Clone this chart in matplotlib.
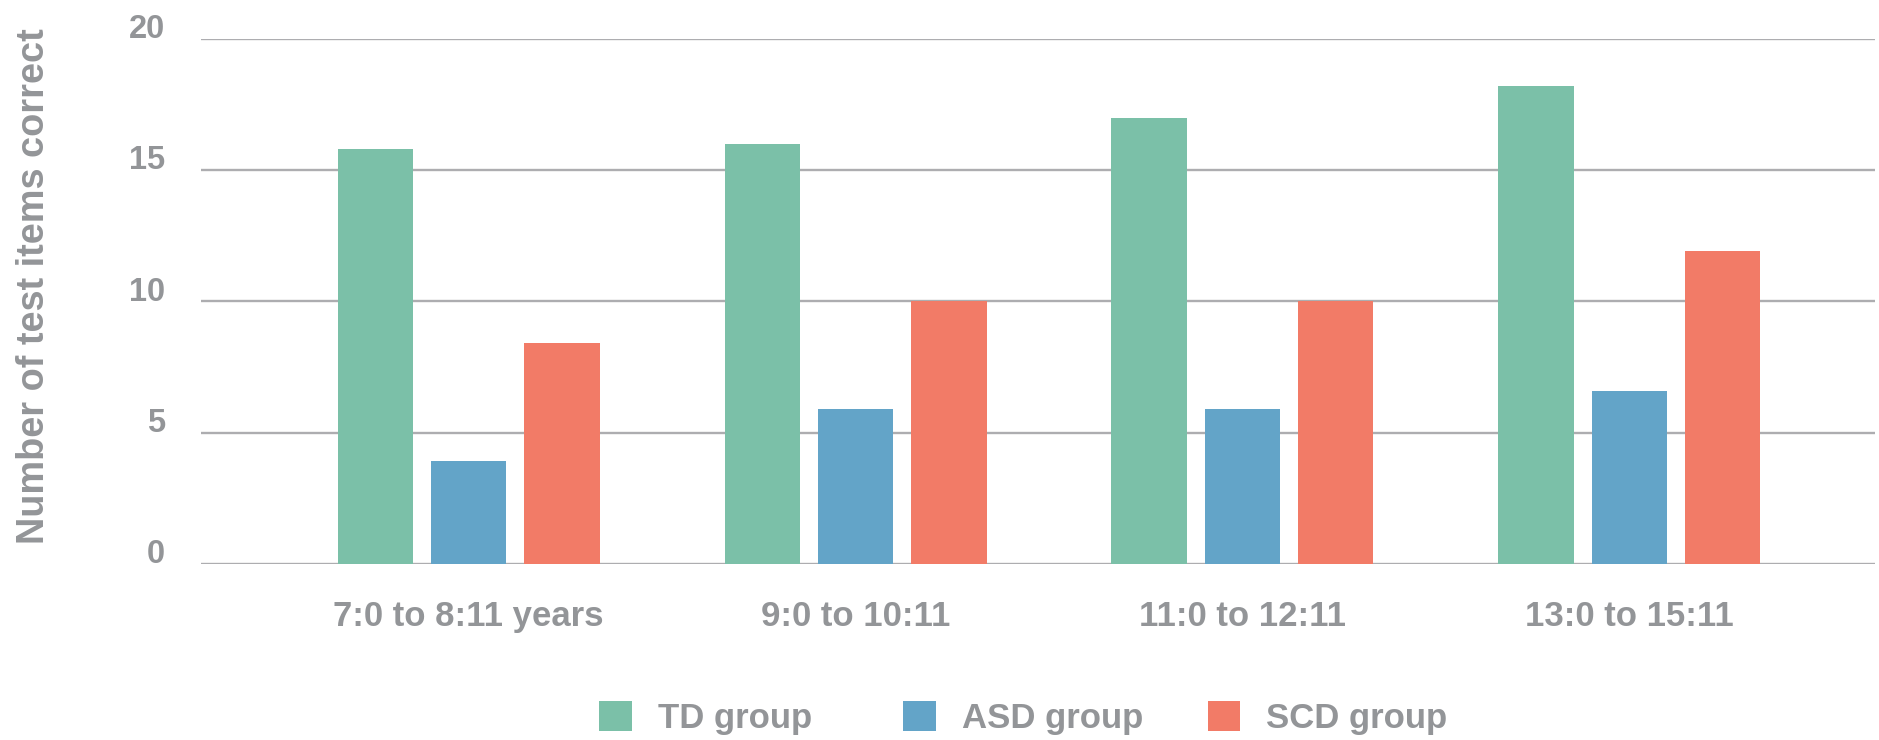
import matplotlib.pyplot as plt
import matplotlib.transforms as mtransforms
import numpy as np

# data
age_groups = ['7:0 to 8:11 years', '9:0 to 10:11', '11:0 to 12:11', '13:0 to 15:11']
td_group = [15.8, 16.0, 17.0, 18.2]
asd_group = [3.9, 5.9, 5.9, 6.6]
scd_group = [8.4, 10.0, 10.0, 11.9]

series_names = ['TD group', 'ASD group', 'SCD group']
series_colors = ['#7BC0A8', '#63A4C8', '#F27B67']
text_grey = '#939598'
grid_grey = '#ADADB0'

plt.rcParams['font.family'] = ['Liberation Sans', 'DejaVu Sans']
plt.rcParams['font.weight'] = 'bold'

fig = plt.figure(figsize=(18.79, 7.40), dpi=100)
ax = fig.add_axes([0.107, 0.238, 0.891, 0.7096])

x = np.arange(len(age_groups))
bar_w = 0.195
pitch = 0.241
bars = []
for i, (vals, name, col) in enumerate(zip([td_group, asd_group, scd_group], series_names, series_colors)):
    bars.append(ax.bar(x + (i - 1) * pitch, vals, width=bar_w, color=col, label=name, zorder=3))

ax.set_xlim(-0.692, 3.636)
ax.set_ylim(0, 20)
ax.set_yticks([0, 5, 10, 15, 20])
ax.set_xticks(x)
ax.set_xticklabels(age_groups)
ax.grid(axis='y', color=grid_grey, linewidth=1.7, zorder=0)
ax.set_axisbelow(True)
for s in ax.spines.values():
    s.set_visible(False)
ax.tick_params(axis='both', length=0, colors=text_grey)
ax.tick_params(axis='y', pad=26, labelsize=23.5)
ax.tick_params(axis='x', pad=26, labelsize=25)

# y labels sit a little above their gridlines
lift = mtransforms.ScaledTranslation(0, 9.2 / 72, fig.dpi_scale_trans)
for lab in ax.get_yticklabels():
    lab.set_transform(lab.get_transform() + lift)

fig.text(0.018, 0.614, 'Number of test items correct', rotation=90, color=text_grey,
         fontsize=27.3, ha='center', va='center')

# legend entries on an even spacing, one small legend each
legend_x = [0.3188, 0.4808, 0.6427]
for bc, name, lx in zip(bars, series_names, legend_x):
    leg = fig.legend([bc], [name], loc='center left', bbox_to_anchor=(lx, 0.03),
                     frameon=False, fontsize=25, handlelength=0.94, handleheight=0.94,
                     handletextpad=0.75, borderpad=0, borderaxespad=0)
    for t in leg.get_texts():
        t.set_color(text_grey)

fig.savefig('out.png', dpi=100)
